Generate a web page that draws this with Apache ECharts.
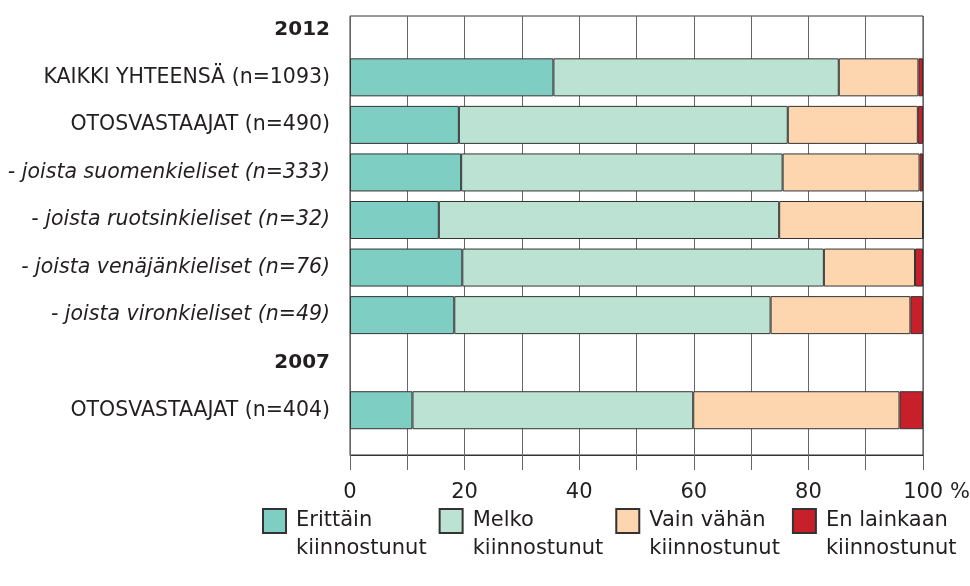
<!DOCTYPE html>
<html>
<head>
<meta charset="utf-8">
<script src="https://cdn.jsdelivr.net/npm/echarts@6/dist/echarts.min.js"></script>
<style>
  html, body { margin: 0; padding: 0; background: #fff; }
  #chart { width: 970px; height: 586px; }
</style>
</head>
<body>
<div id="chart"></div>
<script>
// rows, top to bottom (year rows are headers without bars)
const categories = [
  '2012',
  'KAIKKI YHTEENSÄ (n=1093)',
  'OTOSVASTAAJAT (n=490)',
  '- joista suomenkieliset (n=333)',
  '- joista ruotsinkieliset (n=32)',
  '- joista venäjänkieliset (n=76)',
  '- joista vironkieliset (n=49)',
  '2007',
  'OTOSVASTAAJAT (n=404)'
];

const seriesNames = [
  'Erittäin\nkiinnostunut',
  'Melko\nkiinnostunut',
  'Vain vähän\nkiinnostunut',
  'En lainkaan\nkiinnostunut'
];

// percentages
const erittain   = [null, 35.5, 19.0, 19.4, 15.5, 19.6, 18.2, null, 10.9];
const melko      = [null, 49.8, 57.4, 56.1, 59.4, 63.1, 55.2, null, 49.0];
const vainVahan  = [null, 13.9, 22.7, 23.9, 25.1, 15.9, 24.4, null, 36.0];
const enLainkaan = [null, 0.8, 0.9, 0.6, 0, 1.4, 2.2, null, 4.1];

const xTicks = [0, 20, 40, 60, 80, 100];

const colors = ['#7fcec3', '#bce2d4', '#fdd6af', '#c8202a'];
const values = [erittain, melko, vainVahan, enLainkaan];

const font = 'DejaVu Sans';
const textColor = '#231f20';

let chart = echarts.init(document.getElementById('chart'));

let options = {
  animation: false,
  textStyle: { fontFamily: font },
  grid: [
    // bars
    { left: 350, right: 47, top: 6, height: 428, outerBoundsMode: 'none', containLabel: false },
    // frame + grid lines
    { left: 350, right: 47, top: 16, height: 439, outerBoundsMode: 'none', containLabel: false,
      show: true, borderColor: '#333', borderWidth: 1, backgroundColor: 'transparent' }
  ],
  xAxis: [
    { gridIndex: 0, type: 'value', min: 0, max: 100, show: false },
    {
      gridIndex: 1, type: 'value', min: 0, max: 100, interval: 10,
      axisLine: { show: true, lineStyle: { color: '#333', width: 1 } },
      axisTick: { show: true, length: 15, lineStyle: { color: '#666' } },
      splitLine: { show: true, lineStyle: { color: '#666', width: 1 } },
      axisLabel: {
        margin: 27,
        fontSize: 21,
        color: textColor,
        fontFamily: font,
        formatter: function (v) {
          if (xTicks.indexOf(v) < 0) return '';
          return v === 100 ? '{p|100 %}' : String(v);
        },
        rich: { p: { fontSize: 21, color: textColor, fontFamily: font, padding: [0, 0, 0, 27] } }
      }
    }
  ],
  yAxis: [
    {
      gridIndex: 0, type: 'category', data: categories, inverse: true,
      axisLine: { show: false },
      axisTick: { show: false },
      splitLine: { show: false },
      axisLabel: {
        margin: 20,
        fontSize: 20.5,
        color: textColor,
        fontFamily: font,
        formatter: function (v) {
          if (/^\d{4}$/.test(v)) return '{b|' + v + '}';
          if (v.indexOf('- ') === 0) return '{i|' + v + '}';
          return v;
        },
        rich: {
          b: { fontSize: 20, fontWeight: 'bold', color: textColor, fontFamily: font },
          i: { fontSize: 20.5, fontStyle: 'italic', color: textColor, fontFamily: font }
        }
      }
    },
    { gridIndex: 1, type: 'value', show: false }
  ],
  legend: {
    left: 262,
    top: 479,
    width: 708,
    padding: 0,
    icon: 'rect',
    itemWidth: 23,
    itemHeight: 24,
    itemGap: 12,
    selectedMode: false,
    data: seriesNames,
    // empty first line so the name's first line sits level with the box
    formatter: function (name) { return '\n' + name; },
    textStyle: {
      fontSize: 21,
      lineHeight: 28,
      color: textColor,
      fontFamily: font,
      padding: [0, 0, 0, 5]
    }
  },
  series: seriesNames.map(function (name, i) {
    return {
      name: name,
      type: 'bar',
      stack: 'total',
      xAxisIndex: 0,
      yAxisIndex: 0,
      barWidth: 38,
      data: values[i],
      itemStyle: { color: colors[i], borderColor: '#333', borderWidth: 1 }
    };
  })
};

chart.setOption(options);
</script>
</body>
</html>
